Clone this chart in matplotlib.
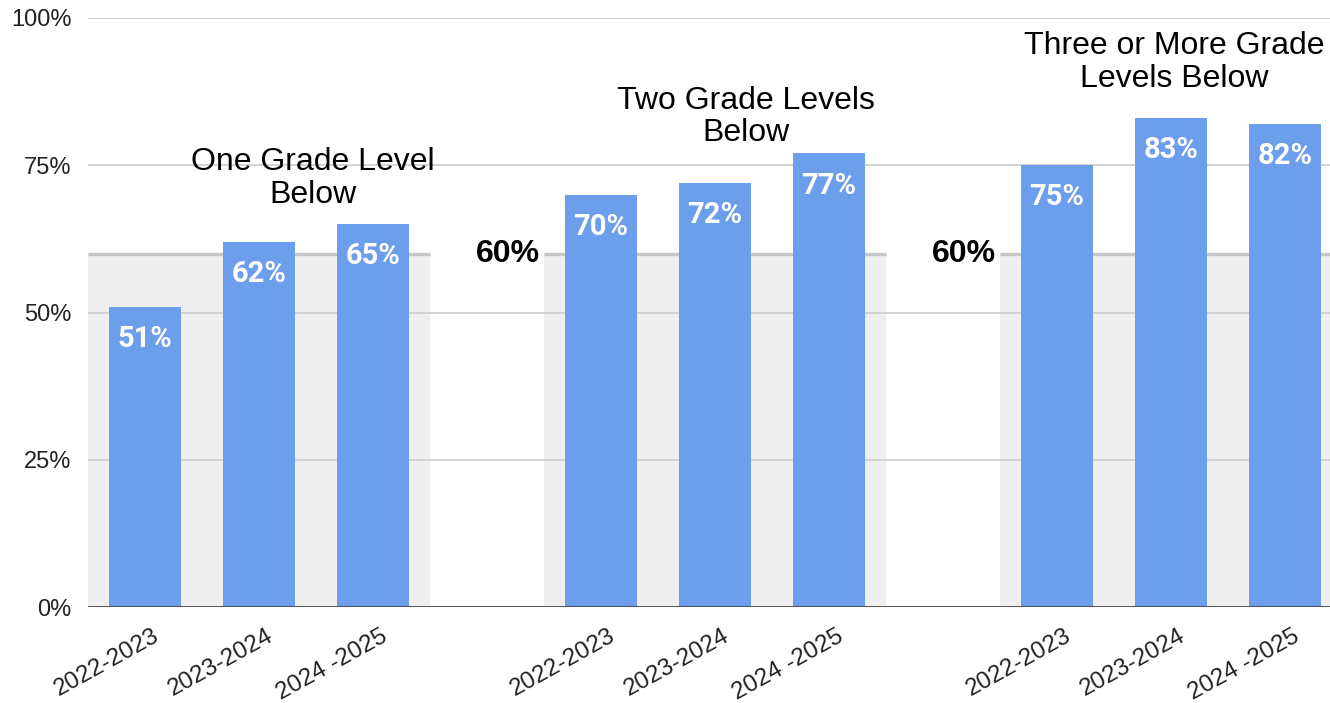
import matplotlib
matplotlib.use("Agg")
import matplotlib.pyplot as plt

# Data: share of students per school year, grouped by how far below grade level
years = ["2022-2023", "2023-2024", "2024 -2025"]
group_titles = ["One Grade Level\nBelow", "Two Grade Levels\nBelow", "Three or More Grade\nLevels Below"]
one_below = [51, 62, 65]
two_below = [70, 72, 77]
three_plus_below = [75, 83, 82]
target = 60
yticks = [0, 25, 50, 75, 100]
ytick_labels = ["0%", "25%", "50%", "75%", "100%"]

groups = [one_below, two_below, three_plus_below]

BAR = "#6d9eeb"
BAND = "#efefef"
TARGET_LINE = "#c6c6c6"
GRID = "#d3d3d3"

fig = plt.figure(figsize=(13.30, 7.03), dpi=100)
ax = fig.add_axes([88 / 1330, 1 - 607 / 703, (1342 - 88) / 1330, (607 - 18) / 703])

ax.set_xlim(-0.5, 10.5)
ax.set_ylim(0, 100)

# horizontal gridlines (drawn over the shaded bands)
for v in yticks[1:]:
    ax.axhline(v, color=GRID, lw=1.4, zorder=1.5)

for gi, vals in enumerate(groups):
    start = gi * 4
    xs = [start + i for i in range(len(vals))]
    # shaded band up to target, with target line
    ax.fill_between([start - 0.5, start + 2.5], 0, target, color=BAND, lw=0, zorder=1)
    ax.plot([start - 0.5, start + 2.5], [target, target], color=TARGET_LINE, lw=2.4,
            zorder=2, solid_capstyle="butt")
    ax.bar(xs, vals, width=0.63, color=BAR, zorder=3)
    for x, v in zip(xs, vals):
        ax.annotate(f"{v}%", (x, v), xytext=(0, -13), textcoords="offset points",
                    ha="center", va="top", color="white", fontsize=21,
                    fontweight="bold", family="Roboto", zorder=4)
    # rotated category labels under each bar
    for x, yr in zip(xs, years):
        ax.annotate(yr, xy=(x, 0), xycoords=("data", "axes fraction"),
                    xytext=(5.5, -13), textcoords="offset points",
                    rotation=29, rotation_mode="anchor", ha="right", va="top",
                    family="Liberation Sans", fontsize=17.5, color="#222222",
                    annotation_clip=False)
    if gi > 0:
        ax.text(start - 0.82, target, f"{target}%", ha="center", va="center",
                fontsize=23, fontweight="bold", family="Liberation Sans",
                color="black", zorder=4)

# group titles
title_pos = [(1.47, 72.8), (5.27, 83.2), (9.03, 92.4)]
for (tx, ty), t in zip(title_pos, group_titles):
    ax.text(tx, ty, t, ha="center", va="center", fontsize=23,
            family="Liberation Sans", color="black", linespacing=1.12, zorder=5)

# zero baseline
ax.axhline(0, color="#444444", lw=2.0, zorder=5)

ax.set_yticks(yticks)
ax.set_yticklabels(ytick_labels, family="Liberation Sans", fontsize=17, color="#222222")
ax.set_xticks([])

ax.tick_params(axis="y", length=0, pad=12)
for s in ax.spines.values():
    s.set_visible(False)

fig.savefig("out.png", dpi=100, facecolor="white")
